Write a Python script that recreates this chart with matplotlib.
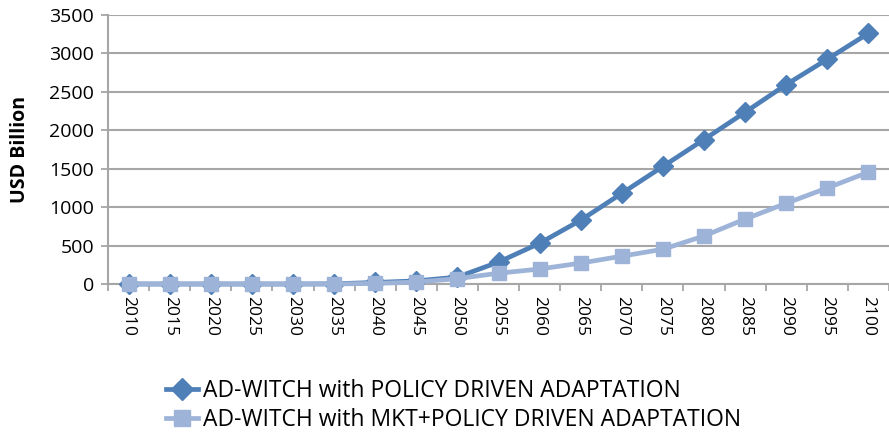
#!/usr/bin/env python3
"""Adaptation cost projection, AD-WITCH scenarios."""
import matplotlib
matplotlib.use("Agg")
import matplotlib.pyplot as plt
import numpy as np

plt.rcParams["font.family"] = ["Open Sans", "DejaVu Sans"]

years = ["2010", "2015", "2020", "2025", "2030", "2035", "2040", "2045", "2050", "2055",
         "2060", "2065", "2070", "2075", "2080", "2085", "2090", "2095", "2100"]
policy_driven = [0, 0, 0, 0, 0, 2, 20, 40, 90, 285, 530, 830, 1180, 1530, 1880, 2235, 2595, 2925, 3262]
mkt_policy_driven = [0, 0, 0, 0, 0, 0, 8, 25, 70, 140, 195, 272, 362, 452, 625, 845, 1050, 1250, 1455]

DARK = "#4E7FB7"
LIGHT = "#9DB3D7"
GRID = "#A6A6A6"

fig = plt.figure(figsize=(8.89, 4.34), dpi=100)
ax = fig.add_axes([108 / 889, 150 / 434, 781 / 889, 269 / 434])

x = np.arange(len(years))
ax.plot(x, policy_driven, "-D", color=DARK, lw=3.4, ms=10, mec=DARK,
        label="AD-WITCH with POLICY DRIVEN ADAPTATION", zorder=3, clip_on=False)
ax.plot(x, mkt_policy_driven, "-s", color=LIGHT, lw=3.4, ms=10.5, mec=LIGHT,
        label="AD-WITCH with MKT+POLICY DRIVEN ADAPTATION", zorder=4, clip_on=False)

ax.set_xlim(-0.5, 18.21)
ax.set_ylim(0, 3500)
ax.set_yticks(range(0, 3501, 500))
ax.set_xticks(x, years, rotation=-90, fontsize=12.5)
ax.set_xticks(np.arange(-0.5, 18.6, 1), minor=True)
ax.tick_params(axis="x", which="major", length=0, pad=9)
ax.tick_params(axis="x", which="minor", length=5, color=GRID, width=1.3)
ax.tick_params(axis="y", length=5, color=GRID, width=1.3, labelsize=14, pad=5)
ax.grid(axis="y", color=GRID, lw=1.5, zorder=0)
ax.set_axisbelow(True)
for side in ["top", "right"]:
    ax.spines[side].set_visible(False)
for side in ["left", "bottom"]:
    ax.spines[side].set_color(GRID)
    ax.spines[side].set_linewidth(1.5)
ax.set_ylabel("USD Billion", fontsize=14, fontweight="bold", labelpad=14)

handles, labels = ax.get_legend_handles_labels()
fig.legend(handles, labels, loc="upper left", bbox_to_anchor=(157 / 889, 1 - 370 / 434),
           frameon=False, fontsize=16.5, handlelength=1.4, labelspacing=0.2,
           handletextpad=0.2, borderaxespad=0, markerscale=1.15)

fig.savefig("out.png", dpi=100, facecolor="white")
